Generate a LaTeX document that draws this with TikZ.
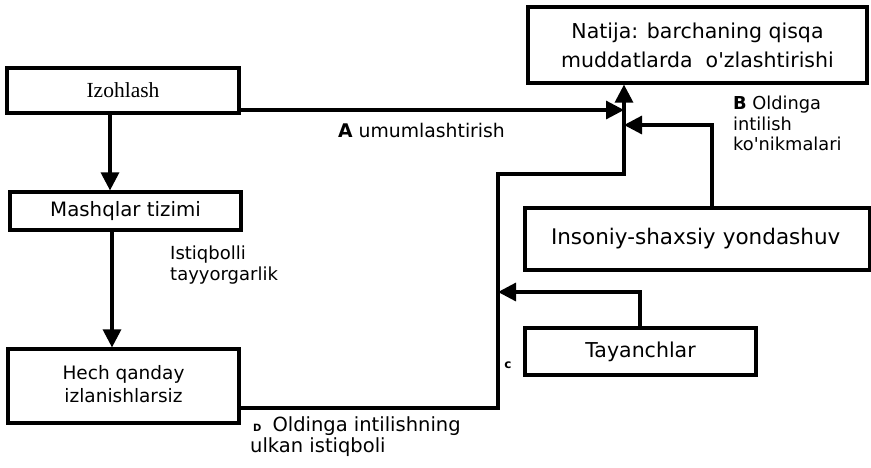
\documentclass[tikz,border=0pt]{standalone}
\usepackage{fontspec}
\setmainfont{DejaVu Sans}
\newfontfamily\serifz{Liberation Serif}
\usetikzlibrary{arrows.meta}
\newcommand{\apos}{\textquotesingle}
\begin{document}
\begin{tikzpicture}[x=1pt,y=-1pt,
  box/.style={draw, line width=3.2pt, inner sep=0pt, align=center, font=\fontsize{18.5}{23}\selectfont},
  conn/.style={line width=3.2pt},
  arr/.style={conn, -{Triangle[length=18pt,width=18pt]}},
  lbl/.style={inner sep=0pt, align=left, font=\fontsize{18}{21}\selectfont}]
\useasboundingbox (0,0) rectangle (871,467);
% boxes
\node[box, minimum width=339pt, minimum height=76pt, font=\fontsize{20.5}{29}\selectfont] (nat) at (697.5,45) {Natija: barchaning qisqa\\muddatlarda~~o\apos zlashtirishi};
\node[box, minimum width=232pt, minimum height=45pt, font=\serifz\fontsize{21.5}{25}\selectfont] (izo) at (123,90.5) {Izohlash};
\node[box, minimum width=231pt, minimum height=38pt, font=\fontsize{19.8}{23}\selectfont] (mash) at (125.5,211) {Mashqlar tizimi};
\node[box, minimum width=231pt, minimum height=74pt, text depth=4pt, font=\fontsize{18.5}{23}\selectfont] (hech) at (123.5,386) {Hech qanday\\izlanishlarsiz};
\node[box, minimum height=62pt, text width=293pt, inner xsep=26pt, align=left, font=\fontsize{21.5}{25}\selectfont] (ins) at (697.5,239) {Insoniy-shaxsiy yondashuv};
\node[box, minimum width=231pt, minimum height=47pt, font=\fontsize{20.5}{25}\selectfont] (tay) at (640.5,351.5) {Tayanchlar};
% helper coordinates
\coordinate (tx) at (624,0);
\coordinate (vx) at (498,0);
\coordinate (j1) at (498,174);
\coordinate (j2) at (624,174);
% connectors
\draw[arr] (izo.south -| 110,0) -- (mash.north -| 110,0);
\draw[arr] (mash.south -| 112,0) -- (hech.north -| 112,0);
\draw[arr] (izo.east |- 0,110) -- (tx |- 0,110);
\draw[arr] (hech.east |- 0,408) -- (vx |- 0,408) -- (j1) -- (j2) -- (nat.south -| tx);
\draw[arr] (ins.north -| 712,0) |- (tx |- 0,125);
\draw[arr] (tay.north -| 640,0) |- (vx |- 0,292);
% labels
\node[lbl, anchor=west, font=\fontsize{18.8}{21}\selectfont] (la) at (338,130) {\textbf{A} umumlashtirish};
\node[lbl, anchor=north west, font=\fontsize{17.8}{20.5}\selectfont] (lb) at (733,96) {\textbf{B} Oldinga\\intilish\\ko\apos nikmalari};
\node[lbl, anchor=north west] (li) at (170,246) {Istiqbolli\\tayyorgarlik};
\node[lbl, anchor=north west, font=\fontsize{19.5}{21}\selectfont] (ld) at (250,416) {\hspace*{3pt}{\fontsize{10}{10}\selectfont\bfseries D}\hspace*{11pt}Oldinga intilishning\\ulkan istiqboli};
\node[inner sep=0pt, font=\fontsize{12}{12}\selectfont\bfseries] (lc) at (508,365) {c};
\end{tikzpicture}
\end{document}
